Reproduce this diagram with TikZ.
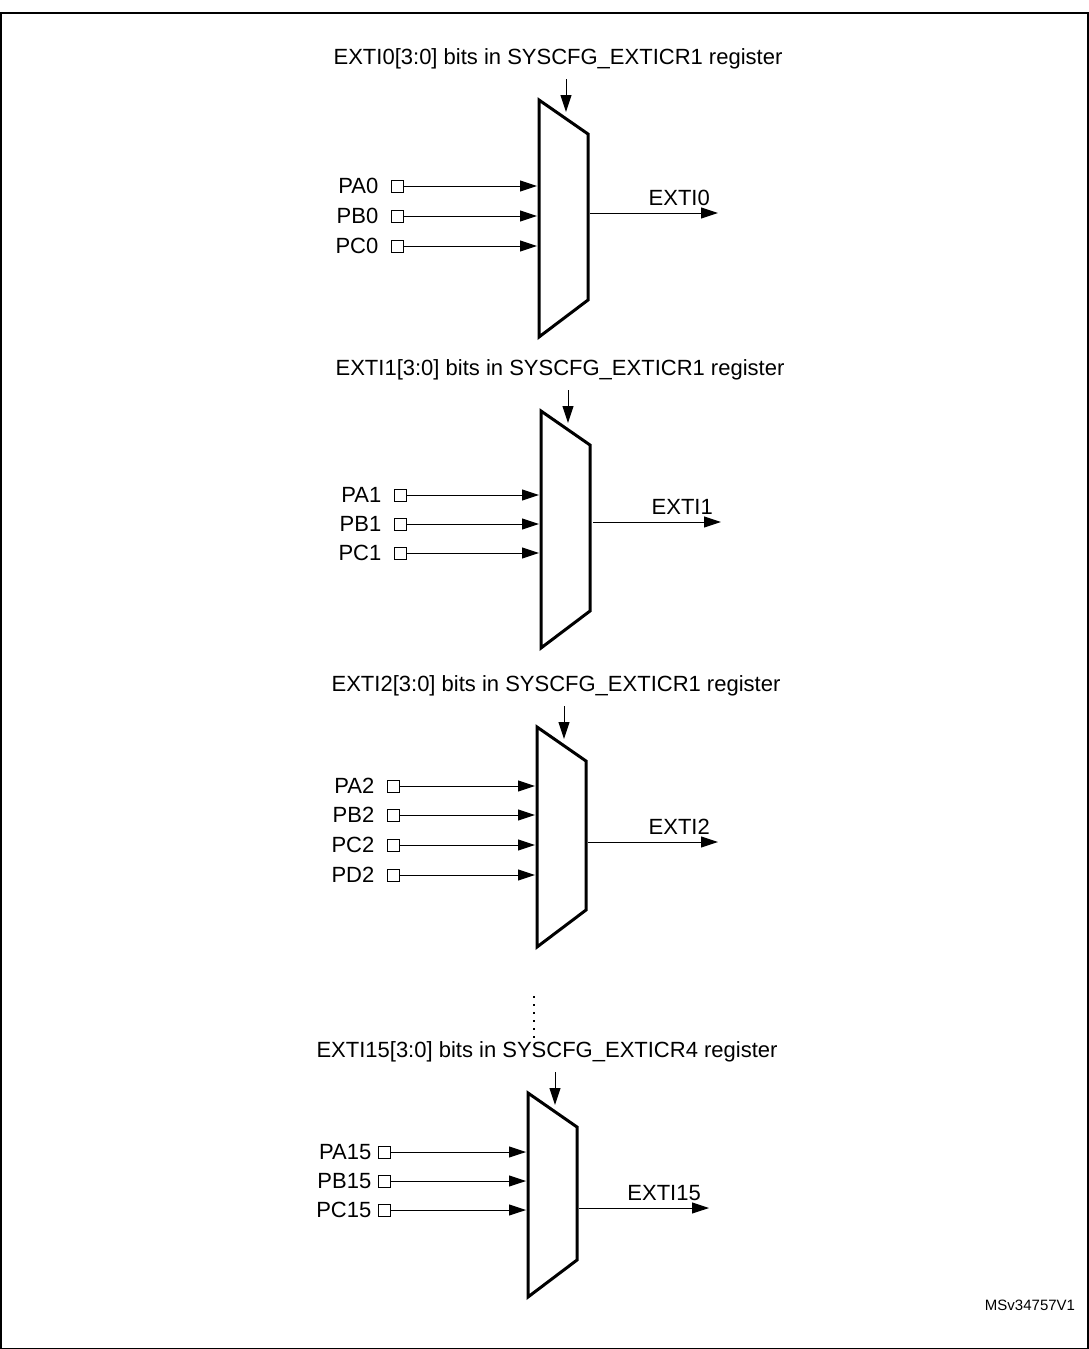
\documentclass[tikz,border=0pt]{standalone}
\usepackage{fontspec}
\setmainfont{Liberation Sans}
\usetikzlibrary{arrows.meta,positioning}
\tikzset{
  pad/.style={draw,inner sep=0pt,minimum size=12pt,line width=1pt},
  lbl/.style={font=\fontsize{22}{24}\selectfont,inner sep=0pt},
  sig/.style={-{Triangle[length=17pt,width=11pt]},line width=1pt},
  muxbody/.style={line width=3pt,line join=miter}
}
% #1 name, #2 left x, #3 top y, #4 bottom y, #5 register text
\newcommand{\muxblk}[5]{
  \coordinate (#1tl) at (#2, #3);
  \coordinate (#1bl) at (#2, #4);
  \coordinate (#1tr) at (#2+49, #3+34);
  \coordinate (#1br) at (#2+49, #4-37);
  \draw[muxbody] (#1tl) -- (#1tr) -- (#1br) -- (#1bl) -- cycle;
  \node[lbl] (#1reg) at (#2+19, #3-41) {#5};
  \coordinate (#1sel) at (#2+27, #3+12);
  \draw[sig] (#1reg.south -| #1sel) ++(0,10) coordinate (#1top) -- (#1sel);
}
\begin{document}
\begin{tikzpicture}[x=1pt,y=-1pt]
\useasboundingbox (0,0) rectangle (1089,1349);
\draw[line width=1.5pt] (1,13) rectangle (1088,1349);

% EXTI0
\muxblk{m0}{539}{100}{337}{EXTI0[3:0] bits in SYSCFG\_EXTICR1 register}
\foreach \p/\y in {PA0/186,PB0/216,PC0/246}{
  \node[pad] (\p) at (397,\y) {};
  \node[lbl,anchor=east] at ([xshift=-12pt]\p.west) {\p};
  \draw[sig] (\p.east) -- (537,\y);
}
\coordinate (m0out) at (718,213);
\draw[sig] (590,213) -- (m0out);
\node[lbl,anchor=south east] at ([xshift=-8pt,yshift=7pt]m0out) {EXTI0};

% EXTI1
\muxblk{m1}{541}{411}{648}{EXTI1[3:0] bits in SYSCFG\_EXTICR1 register}
\foreach \p/\y in {PA1/495,PB1/524,PC1/553}{
  \node[pad] (\p) at (400,\y) {};
  \node[lbl,anchor=east] at ([xshift=-12pt]\p.west) {\p};
  \draw[sig] (\p.east) -- (539,\y);
}
\coordinate (m1out) at (721,522);
\draw[sig] (593,522) -- (m1out);
\node[lbl,anchor=south east] at ([xshift=-8pt,yshift=7pt]m1out) {EXTI1};

% EXTI2
\muxblk{m2}{537}{727}{947}{EXTI2[3:0] bits in SYSCFG\_EXTICR1 register}
\foreach \p/\y in {PA2/786,PB2/815,PC2/845,PD2/875}{
  \node[pad] (\p) at (393,\y) {};
  \node[lbl,anchor=east] at ([xshift=-12pt]\p.west) {\p};
  \draw[sig] (\p.east) -- (535,\y);
}
\coordinate (m2out) at (718,842);
\draw[sig] (588,842) -- (m2out);
\node[lbl,anchor=south east] at ([xshift=-8pt,yshift=7pt]m2out) {EXTI2};

% dots
\draw[line width=2pt,dash pattern=on 2pt off 6pt] (534,996) -- (534,1040);

% EXTI15
\muxblk{m15}{528}{1093}{1297}{EXTI15[3:0] bits in SYSCFG\_EXTICR4 register}
\foreach \p/\y in {PA15/1152,PB15/1181,PC15/1210}{
  \node[pad] (\p) at (384,\y) {};
  \node[lbl,anchor=east] at ([xshift=-6pt]\p.west) {\p};
  \draw[sig] (\p.east) -- (526,\y);
}
\coordinate (m15out) at (709,1208);
\draw[sig] (579,1208) -- (m15out);
\node[lbl,anchor=south east] at ([xshift=-8pt,yshift=7pt]m15out) {EXTI15};

\node[font=\fontsize{15}{17}\selectfont] (docid) at (1030,1305) {MSv34757V1};
\end{tikzpicture}
\end{document}
